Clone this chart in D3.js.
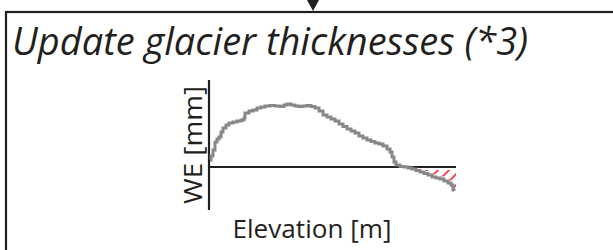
<!DOCTYPE html>
<html>
<head>
<meta charset="utf-8">
<script src="https://cdn.jsdelivr.net/npm/d3@7"></script>
<style>
  html, body { margin: 0; padding: 0; background: #fff; }
  svg { display: block; }
</style>
</head>
<body>
<svg id="chart" width="613" height="250"></svg>
<script>
// elevation bands [m] and water equivalent change [mm]
var elevation = [2005, 2010, 2020, 2030, 2040, 2050, 2060, 2070, 2085, 2100,
  2120, 2140, 2160, 2175, 2180, 2200, 2220, 2240, 2260, 2280,
  2305, 2330, 2355, 2375, 2390, 2410, 2430, 2450, 2470, 2490,
  2510, 2530, 2550, 2570, 2590, 2610, 2630, 2650, 2670, 2690,
  2710, 2730, 2750, 2770, 2790, 2810, 2830, 2850, 2870, 2890,
  2905, 2915, 2925, 2935, 2955, 2975, 2995, 3015, 3035, 3055,
  3075, 3095, 3115, 3135, 3155, 3175, 3195, 3210, 3220, 3225];
var we = [7, 11, 17, 25, 28, 30, 35, 39, 42, 44,
  45, 46, 47, 49, 54, 56, 57, 59, 60, 61,
  61.5, 61, 60.5, 62, 63, 62, 61, 60.5, 61, 61.5,
  60.5, 59, 56, 52, 50, 48, 46, 43, 40.5, 38,
  36, 34, 31, 29, 27, 25.5, 24, 23, 21, 18,
  15, 10, 5, 2, 0.5, 0, -1, -2, -3.5, -5,
  -6.5, -8, -10, -11, -12, -14, -16, -18, -23, -24];
var elevDomain = [2000, 3235];
var weDomain = [-43, 87];
var hatchFrom = 3075;   // ice that would go below zero gets cut

var titleText = 'Update glacier thicknesses (*3)';
var xLabel = 'Elevation [m]';
var yLabel = 'WE [mm]';

var ink = '#231f20';
var svg = d3.select('#chart');

// flowchart box + incoming arrow
svg.append('rect')
  .attr('x', 6).attr('y', 12)
  .attr('width', 700).attr('height', 300)
  .attr('fill', 'none').attr('stroke', ink).attr('stroke-width', 2.2);
svg.append('path')
  .attr('d', 'M307,0 L319,0 L313,11 Z')
  .attr('fill', ink);

svg.append('text')
  .attr('x', 12).attr('y', 55)
  .attr('font-family', 'Open Sans')
  .attr('font-style', 'italic')
  .attr('font-size', 39)
  .attr('fill', ink)
  .attr('textLength', 516).attr('lengthAdjust', 'spacingAndGlyphs')
  .text(titleText);

var x = d3.scaleLinear().domain(elevDomain).range([209, 456]);
var y = d3.scaleLinear().domain(weDomain).range([210, 80]);

var data = elevation.map(function(e, i) { return { e: e, v: we[i] }; });

// hatch pattern for the negative part
var defs = svg.append('defs');
var pat = defs.append('pattern')
  .attr('id', 'hatch')
  .attr('patternUnits', 'userSpaceOnUse')
  .attr('width', 7.8).attr('height', 20)
  .attr('patternTransform', 'rotate(45)');
pat.append('line')
  .attr('x1', 1).attr('y1', 0).attr('x2', 1).attr('y2', 20)
  .attr('stroke', '#ed1c24').attr('stroke-width', 1.6);

var hatchData = data.filter(function(d) { return d.e >= hatchFrom; });
hatchData.push({ e: elevDomain[1], v: hatchData[hatchData.length - 1].v });
var hatchArea = d3.area()
  .x(function(d) { return x(d.e); })
  .y0(function(d) { return y(d.v) - 2.5; })
  .y1(function() { return y(0) + 3; })
  .curve(d3.curveStepAfter);
svg.append('path')
  .datum(hatchData)
  .attr('d', hatchArea)
  .attr('fill', 'url(#hatch)');

// axes (no ticks)
svg.append('line')
  .attr('x1', x(elevDomain[0])).attr('x2', x(elevDomain[0]))
  .attr('y1', y(weDomain[1])).attr('y2', y(weDomain[0]))
  .attr('stroke', ink).attr('stroke-width', 2.2);
svg.append('line')
  .attr('x1', x(elevDomain[0])).attr('x2', x(elevDomain[1]))
  .attr('y1', y(0)).attr('y2', y(0))
  .attr('stroke', ink).attr('stroke-width', 2.2);

var line = d3.line()
  .x(function(d) { return x(d.e); })
  .y(function(d) { return y(d.v); })
  .curve(d3.curveStepAfter);
svg.append('path')
  .datum(data)
  .attr('d', line)
  .attr('fill', 'none')
  .attr('stroke', '#888888')
  .attr('stroke-width', 3);

svg.append('text')
  .attr('x', 312).attr('y', 238)
  .attr('text-anchor', 'middle')
  .attr('font-family', 'Open Sans')
  .attr('font-size', 26)
  .attr('fill', ink)
  .attr('textLength', 159).attr('lengthAdjust', 'spacingAndGlyphs')
  .text(xLabel);

svg.append('text')
  .attr('transform', 'translate(202,145) rotate(-90)')
  .attr('text-anchor', 'middle')
  .attr('font-family', 'Open Sans')
  .attr('font-size', 26)
  .attr('fill', ink)
  .attr('textLength', 118).attr('lengthAdjust', 'spacingAndGlyphs')
  .text(yLabel);
</script>
</body>
</html>
